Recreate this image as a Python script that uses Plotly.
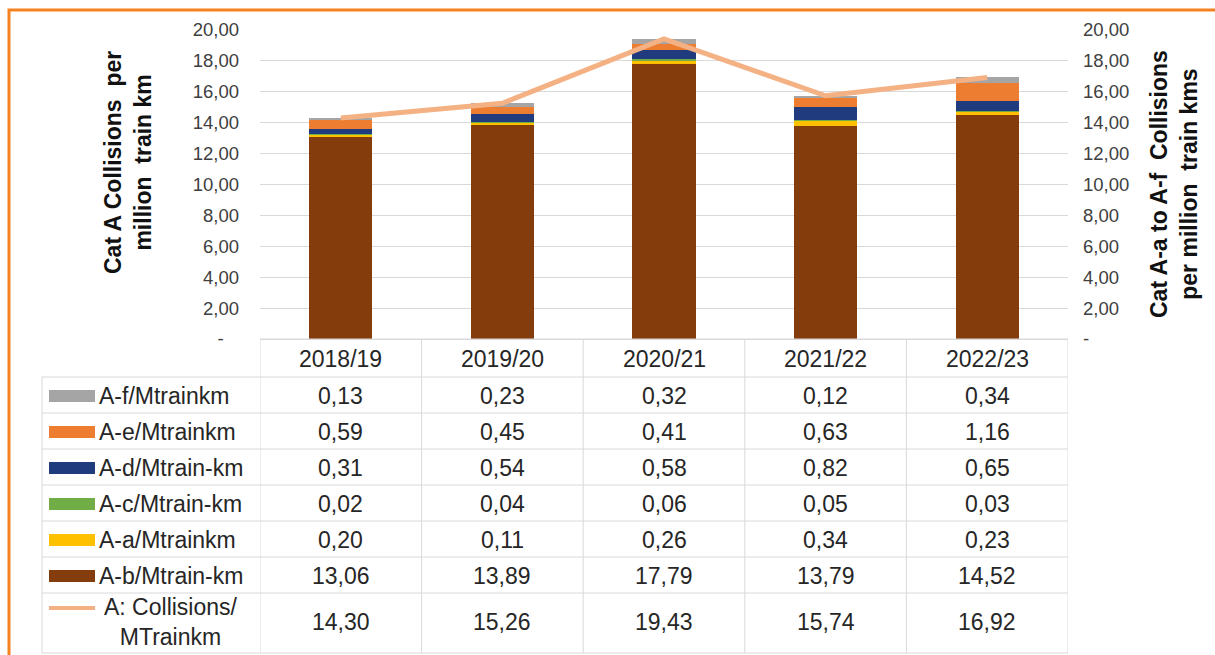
import plotly.graph_objects as go

# ---- data ----
years = ["2018/19", "2019/20", "2020/21", "2021/22", "2022/23"]
a_f = [0.13, 0.23, 0.32, 0.12, 0.34]
a_e = [0.59, 0.45, 0.41, 0.63, 1.16]
a_d = [0.31, 0.54, 0.58, 0.82, 0.65]
a_c = [0.02, 0.04, 0.06, 0.05, 0.03]
a_a = [0.20, 0.11, 0.26, 0.34, 0.23]
a_b = [13.06, 13.89, 17.79, 13.79, 14.52]
a_total = [14.30, 15.26, 19.43, 15.74, 16.92]

y_ticks = [0, 2, 4, 6, 8, 10, 12, 14, 16, 18, 20]

# ---- geometry (pixels) ----
W, H = 1215, 655
PL, PR, PT, PB = 260, 1068, 30, 339      # plot area edges
TABLE_LEFT = 42
ROW_EDGES = [339, 377, 413, 449, 485, 521, 557, 593, 653]


def px(x):
    return (x - PL) / (PR - PL)


def py(y):
    return (PB - y) / (PB - PT)


FONT = "Liberation Sans, Arial, sans-serif"

colors = {
    "b": "#843C0C",
    "a": "#FFC000",
    "c": "#70AD47",
    "d": "#203B7E",
    "e": "#ED7D31",
    "f": "#A5A5A5",
    "line": "#F4B183",
}

fig = go.Figure()

# stacked bars, bottom to top
stack = [
    ("A-b/Mtrain-km", a_b, colors["b"]),
    ("A-a/Mtrainkm", a_a, colors["a"]),
    ("A-c/Mtrain-km", a_c, colors["c"]),
    ("A-d/Mtrain-km", a_d, colors["d"]),
    ("A-e/Mtrainkm", a_e, colors["e"]),
    ("A-f/Mtrainkm", a_f, colors["f"]),
]
for name, vals, col in stack:
    fig.add_trace(go.Bar(x=years, y=vals, name=name, marker=dict(color=col, line=dict(width=0)),
                         showlegend=False))

fig.add_trace(go.Scatter(x=years, y=a_total, name="A: Collisions/ MTrainkm", mode="lines",
                         line=dict(color=colors["line"], width=5), yaxis="y2", showlegend=False))

tick_text = ["-\u00a0\u00a0\u00a0"] + [f"{v:.2f}".replace(".", ",") for v in y_ticks[1:]]
tick_text_r = ["-"] + [f"{v:.2f}".replace(".", ",") for v in y_ticks[1:]]

fig.update_layout(
    width=W, height=H,
    margin=dict(l=PL, r=W - PR, t=PT, b=H - PB, pad=0),
    paper_bgcolor="white", plot_bgcolor="white",
    barmode="stack", bargap=0.61,
    font=dict(family=FONT, color="#404040"),
    xaxis=dict(range=[-0.5, 4.5], showticklabels=False, showgrid=False, zeroline=False,
               showline=True, linecolor="#D9D9D9", linewidth=1, ticks=""),
    yaxis=dict(range=[0, 20], tickvals=y_ticks, ticktext=tick_text, showgrid=True,
               gridcolor="#D9D9D9", gridwidth=1, zeroline=False, ticks="",
               tickfont=dict(size=18.5, color="#404040"), ticklabelstandoff=20),
    yaxis2=dict(range=[0, 20], overlaying="y", side="right", tickvals=y_ticks,
                ticktext=tick_text_r, showgrid=False, zeroline=False, ticks="",
                tickfont=dict(size=18.5, color="#404040"), ticklabelstandoff=14),
)

shapes = []
annotations = []

# outer orange frame
shapes.append(dict(type="rect", xref="paper", yref="paper",
                   x0=px(9), x1=px(1240), y0=py(10), y1=py(700),
                   line=dict(color="#F58220", width=3), fillcolor="rgba(0,0,0,0)", layer="above"))

# axis titles
annotations.append(dict(xref="paper", yref="paper", x=px(128), y=py(163),
                        text="<b>Cat A Collisions  per<br>million  train km</b>", textangle=-90,
                        showarrow=False, font=dict(size=23, color="#111111", family=FONT),
                        xanchor="center", yanchor="middle"))
annotations.append(dict(xref="paper", yref="paper", x=px(1174), y=py(184),
                        text="<b>Cat A-a to A-f  Collisions<br>per million  train kms</b>",
                        textangle=-90, showarrow=False,
                        font=dict(size=23, color="#111111", family=FONT),
                        xanchor="center", yanchor="middle"))

# ---- data table below the chart ----
GRID = dict(color="#D9D9D9", width=1)
# horizontal rules
for i, ye in enumerate(ROW_EDGES):
    x_start = PL if i == 0 else TABLE_LEFT
    shapes.append(dict(type="line", xref="paper", yref="paper", x0=px(x_start), x1=px(PR),
                       y0=py(ye), y1=py(ye), line=GRID))
# vertical rules at category boundaries
for k in range(len(years) + 1):
    shapes.append(dict(type="line", xref="x", yref="paper", x0=k - 0.5, x1=k - 0.5,
                       y0=py(ROW_EDGES[0]), y1=py(ROW_EDGES[-1]), line=GRID))
shapes.append(dict(type="line", xref="paper", yref="paper", x0=px(TABLE_LEFT), x1=px(TABLE_LEFT),
                   y0=py(ROW_EDGES[1]), y1=py(ROW_EDGES[-1]), line=GRID))

TFONT = dict(size=23, color="#262626", family=FONT)

# header row: category names
hy = (ROW_EDGES[0] + ROW_EDGES[1]) / 2 + 1
for k, yr in enumerate(years):
    annotations.append(dict(xref="x", yref="paper", x=k, y=py(hy), text=yr, showarrow=False,
                            font=TFONT, xanchor="center", yanchor="middle"))

table_rows = [
    ("A-f/Mtrainkm", a_f, colors["f"], "bar"),
    ("A-e/Mtrainkm", a_e, colors["e"], "bar"),
    ("A-d/Mtrain-km", a_d, colors["d"], "bar"),
    ("A-c/Mtrain-km", a_c, colors["c"], "bar"),
    ("A-a/Mtrainkm", a_a, colors["a"], "bar"),
    ("A-b/Mtrain-km", a_b, colors["b"], "bar"),
    ("A: Collisions/<br>MTrainkm", a_total, colors["line"], "line"),
]

for r, (label, vals, col, kind) in enumerate(table_rows):
    top, bot = ROW_EDGES[r + 1], ROW_EDGES[r + 2]
    cy = (top + bot) / 2 + (1 if kind == "bar" else -1)
    for k, v in enumerate(vals):
        annotations.append(dict(xref="x", yref="paper", x=k, y=py(cy),
                                text=f"{v:.2f}".replace(".", ","), showarrow=False,
                                font=TFONT, xanchor="center", yanchor="middle"))
    if kind == "bar":
        shapes.append(dict(type="rect", xref="paper", yref="paper", x0=px(49), x1=px(95),
                           y0=py(cy - 6), y1=py(cy + 6), fillcolor=col, line=dict(width=0)))
        annotations.append(dict(xref="paper", yref="paper", x=px(97), y=py(cy), text=label,
                                showarrow=False, font=TFONT, xanchor="left", yanchor="middle"))
    else:
        sy = top + 15
        shapes.append(dict(type="line", xref="paper", yref="paper", x0=px(49), x1=px(95),
                           y0=py(sy), y1=py(sy), line=dict(color=col, width=4)))
        annotations.append(dict(xref="paper", yref="paper", x=px(171), y=py(cy), text=label,
                                showarrow=False, font=TFONT, xanchor="center", yanchor="middle",
                                align="center"))

fig.update_layout(shapes=shapes, annotations=annotations)

fig.write_html("out.html")
